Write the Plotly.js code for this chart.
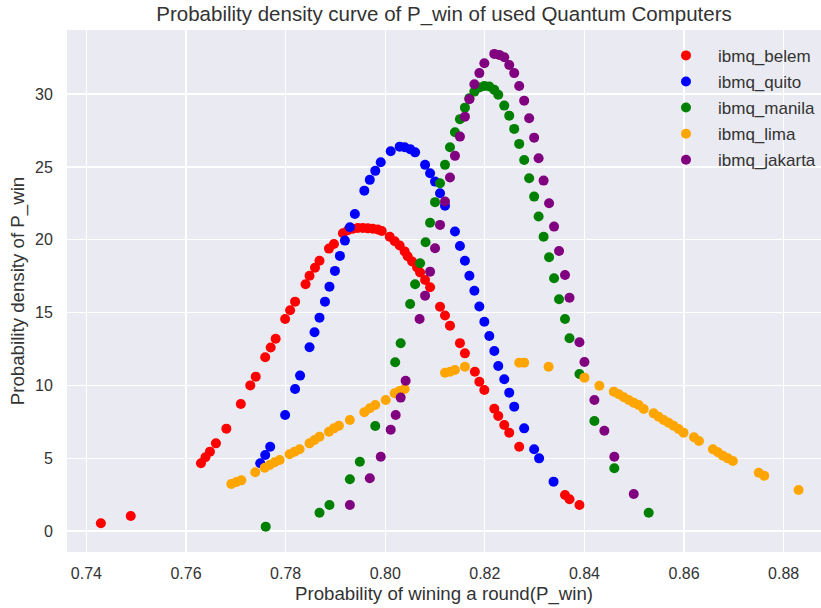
<!DOCTYPE html>
<html>
<head>
<meta charset="utf-8">
<script src="https://cdn.plot.ly/plotly-3.0.1.min.js"></script>
<style>html,body{margin:0;padding:0;background:#fff;}#chart{width:821px;height:608px;}</style>
</head>
<body>
<div id="chart"></div>
<script>
var belemX = [0.7429,0.7489,0.7630,0.7639,0.7648,0.7660,0.7681,0.7710,0.7729,0.7740,0.7759,0.7770,0.7780,0.7799,0.7809,0.7819,0.7840,0.7848,0.7859,0.7868,0.7887,0.7897,0.7915,0.7925,0.7935,0.7945,0.7955,0.7965,0.7975,0.7985,0.7993,0.8009,0.8019,0.8029,0.8039,0.8045,0.8054,0.8064,0.8070,0.8080,0.8090,0.8110,0.8120,0.8130,0.8150,0.8160,0.8180,0.8189,0.8199,0.8219,0.8227,0.8239,0.8249,0.8269,0.8361,0.8370,0.8390];
var belemY = [0.53,1.03,4.65,5.06,5.45,6.02,7.03,8.72,10.0,10.6,11.93,12.6,13.2,14.56,15.16,15.75,16.94,17.53,18.08,18.56,19.39,19.71,20.45,20.65,20.75,20.8,20.8,20.78,20.75,20.7,20.6,20.2,19.9,19.6,19.2,18.87,18.5,18.1,17.75,17.24,16.74,15.4,14.8,14.1,12.9,12.2,10.94,10.25,9.68,8.4,7.9,7.28,6.75,5.79,2.47,2.18,1.79];

var quitoX = [0.7749,0.7759,0.7769,0.7799,0.7819,0.7829,0.7848,0.7858,0.7868,0.7879,0.7888,0.7899,0.7909,0.7919,0.7929,0.7939,0.7958,0.7969,0.7980,0.7991,0.8011,0.8029,0.8039,0.8050,0.8060,0.8080,0.8090,0.8100,0.8110,0.8120,0.8140,0.8150,0.8160,0.8169,0.8179,0.8189,0.8199,0.8209,0.8219,0.8227,0.8239,0.8249,0.8259,0.8279,0.8299,0.8309,0.8338];
var quitoY = [4.65,5.22,5.79,7.97,9.75,10.67,12.62,13.65,14.65,15.75,16.78,17.86,18.89,19.94,20.86,21.77,23.37,24.11,24.73,25.32,26.08,26.39,26.35,26.22,26.0,25.14,24.57,23.99,23.19,22.34,20.56,19.57,18.56,17.53,16.5,15.41,14.37,13.39,12.36,11.33,10.42,9.5,8.54,7.05,5.61,4.99,3.39];

var manilaX = [0.7760,0.7868,0.7888,0.7929,0.7949,0.7980,0.8020,0.8031,0.8050,0.8060,0.8070,0.8081,0.8090,0.8100,0.8110,0.8120,0.8130,0.8140,0.8150,0.8160,0.8169,0.8179,0.8189,0.8199,0.8209,0.8219,0.8227,0.8239,0.8249,0.8259,0.8269,0.8279,0.8289,0.8299,0.8308,0.8318,0.8329,0.8339,0.8349,0.8361,0.8370,0.8390,0.8420,0.8460,0.8529];
var manilaY = [0.30,1.26,1.79,3.55,4.76,7.21,11.59,12.89,15.59,16.94,18.39,19.83,21.17,22.58,23.88,25.14,26.35,27.38,28.28,29.07,29.72,30.17,30.45,30.56,30.52,30.29,29.95,29.21,28.52,27.61,26.58,25.48,24.22,22.96,21.59,20.21,18.8,17.36,15.91,14.56,13.24,10.78,7.55,4.31,1.26];

var limaX = [0.7691,0.7701,0.7711,0.7739,0.7758,0.7768,0.7778,0.7788,0.7808,0.7818,0.7828,0.7848,0.7858,0.7868,0.7887,0.7897,0.7907,0.7929,0.7958,0.7969,0.7980,0.8001,0.8019,0.8029,0.8039,0.8120,0.8130,0.8140,0.8160,0.8269,0.8279,0.8328,0.8400,0.8430,0.8459,0.8469,0.8479,0.8489,0.8499,0.8509,0.8519,0.8539,0.8549,0.8559,0.8569,0.8579,0.8589,0.8599,0.8620,0.8630,0.8658,0.8668,0.8678,0.8688,0.8698,0.8750,0.8761,0.8830];
var limaY = [3.23,3.37,3.48,4.03,4.35,4.53,4.72,4.88,5.27,5.45,5.61,6.02,6.25,6.48,6.82,7.05,7.23,7.62,8.15,8.43,8.65,9.0,9.46,9.62,9.75,10.87,10.94,11.06,11.28,11.56,11.56,11.28,10.53,9.98,9.57,9.39,9.18,9.0,8.81,8.65,8.38,8.08,7.85,7.62,7.44,7.23,7.01,6.75,6.44,6.18,5.61,5.41,5.17,4.99,4.81,4.0,3.8,2.82];

var jakartaX = [0.7929,0.7969,0.7991,0.8011,0.8021,0.8031,0.8041,0.8069,0.8080,0.8090,0.8100,0.8110,0.8120,0.8130,0.8140,0.8150,0.8160,0.8169,0.8179,0.8189,0.8199,0.8219,0.8229,0.8239,0.8249,0.8259,0.8269,0.8279,0.8289,0.8299,0.8308,0.8318,0.8329,0.8339,0.8349,0.8361,0.8370,0.8390,0.8400,0.8420,0.8440,0.8460,0.8499];
var jakartaY = [1.79,3.62,5.10,6.96,7.97,9.16,10.32,14.56,16.16,17.81,19.42,21.02,22.62,24.27,25.76,27.08,28.45,29.65,30.68,31.44,32.12,32.76,32.69,32.53,32.0,31.44,30.56,29.55,28.34,27.01,25.6,24.06,22.51,20.9,19.23,17.58,16.02,12.96,11.61,9.0,6.89,5.10,2.54];

var seriesNames = ['ibmq_belem','ibmq_quito','ibmq_manila','ibmq_lima','ibmq_jakarta'];
var seriesColors = ['red','blue','green','orange','purple'];
var seriesX = [belemX, quitoX, manilaX, limaX, jakartaX];
var seriesY = [belemY, quitoY, manilaY, limaY, jakartaY];

var xTickVals = [0.74,0.76,0.78,0.80,0.82,0.84,0.86,0.88];
var xTickText = ['0.74','0.76','0.78','0.80','0.82','0.84','0.86','0.88'];
var yTickVals = [0,5,10,15,20,25,30];

var FONT = 'Liberation Sans, Arial, sans-serif';
var TXT = '#333333';

var traces = seriesNames.map(function(n, i){
  return {
    type: 'scatter', mode: 'markers', name: n,
    x: seriesX[i], y: seriesY[i], legendgroup: 'g'+i,
    marker: {color: seriesColors[i], size: 10, line: {width: 0}},
    cliponaxis: false
  };
});

var layout = {
  width: 821, height: 608,
  margin: {l: 67, r: 0, t: 30, b: 56, pad: 0},
  paper_bgcolor: '#ffffff',
  plot_bgcolor: '#EAEAF2',
  font: {family: FONT, color: TXT, size: 16},
  title: {text: 'Probability density curve of P_win of used Quantum Computers',
          font: {size: 20.5, color: TXT, family: FONT}, x: 0.5, xref: 'paper', xanchor: 'center', y: 0.978, yanchor: 'middle'},
  xaxis: {
    range: [0.7361, 0.8875], tickvals: xTickVals, ticktext: xTickText,
    showgrid: true, gridcolor: '#ffffff', gridwidth: 1.3, zeroline: false, showline: false,
    ticks: 'outside', ticklen: 7, tickcolor: 'rgba(0,0,0,0)',
    tickfont: {size: 16, color: TXT, family: FONT},
    title: {text: 'Probability of wining a round(P_win)', font: {size: 18.7, color: TXT, family: FONT}, standoff: 5}
  },
  yaxis: {
    range: [-1.44, 34.4], tickvals: yTickVals,
    showgrid: true, gridcolor: '#ffffff', gridwidth: 1.3, zeroline: false, showline: false,
    ticks: 'outside', ticklen: 10, tickcolor: 'rgba(0,0,0,0)',
    tickfont: {size: 16, color: TXT, family: FONT},
    title: {text: 'Probability density of P_win', font: {size: 18.7, color: TXT, family: FONT}, standoff: 5}
  },
  showlegend: true,
  legend: {x: 0.7785, xanchor: 'left', y: 0.985, yanchor: 'top', bgcolor: 'rgba(0,0,0,0)',
           font: {size: 17, color: TXT, family: FONT}, itemwidth: 54,
           traceorder: 'grouped', tracegroupgap: 1}
};

Plotly.newPlot('chart', traces, layout, {displayModeBar: false, staticPlot: true});
</script>
</body>
</html>
